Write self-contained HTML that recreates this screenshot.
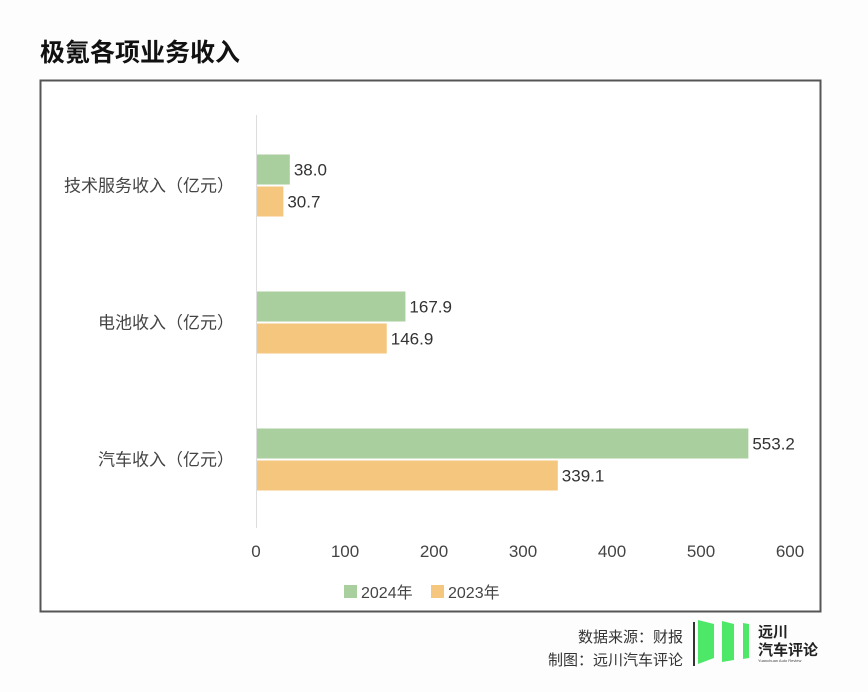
<!DOCTYPE html>
<html><head><meta charset="utf-8"><style>
body{margin:0;width:868px;height:692px;background:#fdfdfd;font-family:"Liberation Sans","Noto Sans CJK SC",sans-serif;overflow:hidden}
svg{position:absolute;left:0;top:0}
</style></head><body>
<svg width="868" height="692">
<text x="40" y="61" font-size="25" font-weight="bold" fill="#111" font-family="Liberation Sans,Noto Sans CJK SC,sans-serif">极氪各项业务收入</text>
<rect x="40.5" y="80.5" width="780" height="531" fill="#fff" stroke="#555" stroke-width="2"/>
<line x1="256.5" y1="115" x2="256.5" y2="528" stroke="#ddd"/>
<g id="plot"></g>
<g>
<rect x="344" y="585" width="13" height="13" fill="#a9cf9e"/>
<text x="361" y="598" font-size="16" fill="#444">2024年</text>
<rect x="431" y="585" width="13" height="13" fill="#f5c67d"/>
<text x="448" y="598" font-size="16" fill="#444">2023年</text>
</g>
<g font-size="15" fill="#333" text-anchor="end">
<text x="683" y="642">数据来源：财报</text>
<text x="683" y="665">制图：远川汽车评论</text>
</g>
<line x1="694" y1="622" x2="694" y2="666" stroke="#333" stroke-width="2"/>
<g>
<polygon points="698,620 714,624 714,658 698,664" fill="#4de868"/>
<polygon points="722,621 734,624 734,660 722,662" fill="#4de868"/>
<polygon points="743,623 749,624 749,658 743,659" fill="#4de868"/>
<text x="758" y="637" font-size="15" font-weight="bold" fill="#222">远川</text>
<text x="758" y="655" font-size="15" font-weight="bold" fill="#222">汽车评论</text>
<text x="758" y="662" font-size="4" fill="#444">Yuanchuan Auto Review</text>
</g>
</svg>
<script>
const categories=["技术服务收入（亿元）","电池收入（亿元）","汽车收入（亿元）"];
const values2024=[38.0,167.9,553.2];
const values2023=[30.7,146.9,339.1];
const ticks=[0,100,200,300,400,500,600];
const NS="http://www.w3.org/2000/svg";
const g=document.getElementById('plot');
const x0=256,x1=790,xMax=600;
const xs=v=>x0+(v/xMax)*(x1-x0);
const bandTop=117,bandH=137,barH=30;
function mk(t,a){const e=document.createElementNS(NS,t);for(const k in a)e.setAttribute(k,a[k]);g.appendChild(e);return e;}
ticks.forEach(t=>{
 const e=mk('text',{x:xs(t),y:557,'font-size':17,fill:'#444','text-anchor':'middle'});
 e.textContent=t;
 
 
});
categories.forEach((c,i)=>{
 const cy=bandTop+bandH*i+bandH/2;
 const l=mk('text',{x:234,y:cy+6,'font-size':17,fill:'#444','text-anchor':'end'});
 l.textContent=c;
 
 
 [[values2024[i],'#a9cf9e',cy-barH-1],[values2023[i],'#f5c67d',cy+1]].forEach(([v,col,y],j)=>{
  const r=mk('rect',{x:x0+1,y:y,width:xs(v)-x0-1,height:barH,fill:col});
  
  
  const t=mk('text',{x:xs(v)+4,y:y+barH/2+6,'font-size':17,fill:'#333'});
  t.textContent=v.toFixed(1);
  
  
 });
});
</script>
</body></html>
